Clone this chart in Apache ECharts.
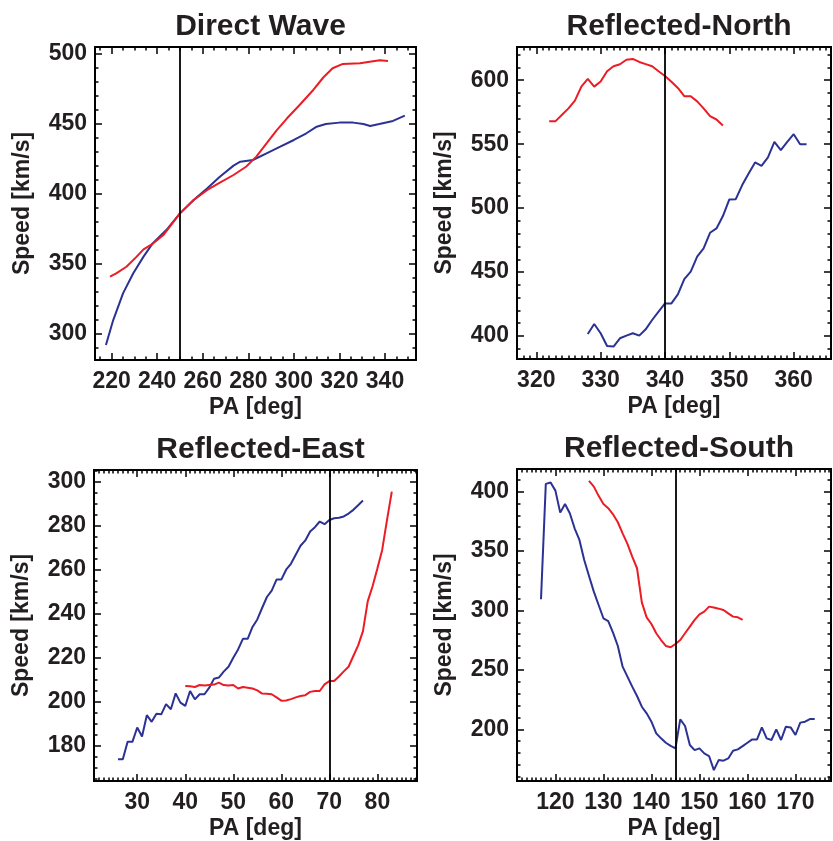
<!DOCTYPE html>
<html>
<head>
<meta charset="utf-8">
<script src="https://cdn.jsdelivr.net/npm/echarts@6/dist/echarts.min.js"></script>
<style>
  html, body { margin: 0; padding: 0; background: #fff; }
  #main { width: 833px; height: 841px; }
</style>
</head>
<body>
<div id="main"></div>
<script>
// Direct Wave
const directBlueX = [217.5, 220.7, 225, 229.5, 234, 238, 244, 250, 256, 262, 267.5, 273.5, 276.5, 282, 288, 294, 300, 305.5, 310, 314, 320, 326, 330.5, 333.5, 337.5, 343.5, 348.7];
const directBlueY = [291.7, 309.5, 328.6, 342.9, 354.8, 364.3, 373.8, 385.7, 395.2, 403.6, 411.9, 419.8, 422.6, 423.8, 428.6, 433.3, 438.1, 442.9, 447.6, 449.5, 450.5, 450.5, 449.5, 448.1, 449.5, 451.7, 455.5];
const directRedX = [219.3, 222, 226.5, 231, 234, 238.3, 242.7, 250, 256, 262, 267.5, 273.5, 279, 283.5, 288, 292.5, 297, 302.5, 308.5, 313, 317, 321.5, 329, 333.3, 337.7, 341.3];
const directRedY = [340.5, 342.9, 347.6, 354.8, 360, 364.3, 370.2, 385.7, 395.2, 402.4, 407.6, 413.1, 419, 426.2, 435.7, 445.2, 453.6, 463.1, 473.8, 482.9, 489.3, 492.4, 492.9, 494, 495, 494.5];

// Reflected-North
const northRedX = [322, 323, 324, 325, 326, 327, 328, 329, 330, 331, 332, 333, 334, 335, 336, 337, 338, 339, 340, 341, 342, 343, 344, 345, 346, 347, 348, 349];
const northRedY = [568, 568, 573, 578, 584, 595, 601, 595, 599, 607, 611, 612.5, 616, 616.7, 614.3, 612.6, 610.9, 607, 603.3, 598.8, 594, 587.5, 587.5, 583.5, 578, 572, 569.3, 564.6];
const northBlueX = [328, 329, 330, 331, 332, 333, 334, 335, 336, 337, 338, 339, 340, 341, 342, 343, 344, 345, 346, 347, 348, 349, 350, 351, 352, 353, 354, 355, 356, 357, 358, 359, 360, 361, 362];
const northBlueY = [401.6, 409.4, 402.1, 392.2, 391.7, 398.2, 400.3, 402.1, 400.3, 405.2, 412.5, 419, 425.5, 425.5, 432.6, 444.5, 450.3, 462, 468.5, 480.7, 484.1, 493.8, 506.8, 507, 518, 527.1, 535.7, 533.1, 539.6, 551.8, 545.3, 551.8, 557.8, 550, 550];

// Reflected-East
const eastBlueX = [26, 27, 28, 29, 30, 31, 32, 33, 34, 35, 36, 37, 38, 39, 40, 41, 42, 43, 44, 45, 46, 47, 48, 49, 50, 51, 52, 53, 54, 55, 56, 57, 58, 59, 60, 61, 62, 63, 64, 65, 66, 67, 68, 69, 70, 71, 72, 73, 74, 75, 76, 77];
const eastBlueY = [173.9, 173.9, 181.8, 181.8, 188.3, 184.2, 193.9, 190.9, 194.6, 194.3, 198.9, 196.6, 203.8, 199.6, 198.1, 204.9, 201.1, 203.4, 203.4, 206.4, 210.5, 211, 213.7, 215.9, 220, 223.8, 228.6, 228.6, 234, 237.4, 242.6, 247.6, 250.5, 255.5, 255.5, 260, 262.7, 266.8, 270.9, 273.3, 277.4, 279.3, 281.9, 280.7, 282.6, 283.4, 283.6, 284.2, 285.5, 287.2, 289.3, 291.4];
const eastRedX = [40, 41, 42, 43, 44, 45, 46, 47, 48, 49, 50, 51, 52, 53, 54, 55, 56, 57, 58, 59, 60, 61, 62, 63, 64, 65, 66, 67, 68, 69, 70, 71, 72, 73, 74, 75, 76, 77, 78, 79, 80, 81, 82, 83];
const eastRedY = [207.2, 207, 206.7, 207.6, 207.4, 207.6, 207.8, 208.7, 207.6, 207.4, 207.6, 206, 206.7, 206.4, 206, 205.2, 203.7, 203.6, 203.4, 202, 200.5, 200.6, 201.2, 202, 202.6, 203, 204.5, 204.9, 204.9, 207.9, 209.4, 209.4, 211.5, 213.8, 215.9, 220.8, 225.6, 232.1, 245.7, 252.5, 260.5, 269, 282.5, 295.5];

// Reflected-South
const southBlueX = [117, 118, 119, 120, 121, 122, 123, 124, 125, 126, 127, 128, 129, 130, 131, 132, 133, 134, 135, 136, 137, 138, 139, 140, 141, 142, 143, 144, 145, 146, 147, 148, 149, 150, 151, 152, 153, 154, 155, 156, 157, 158, 159, 160, 161, 162, 163, 164, 165, 166, 167, 168, 169, 170, 171, 172, 173, 174];
const southBlueY = [309.4, 406.5, 407.6, 400.8, 382.3, 389.6, 381.8, 369.1, 359.3, 342.5, 329, 315.8, 304.6, 293.4, 291.1, 281.3, 270.1, 252.7, 244.3, 235.9, 228, 219, 213.4, 206.4, 196.6, 192.4, 188.7, 186, 184, 208.4, 202.8, 186.8, 182.5, 184, 179.7, 177.5, 165.7, 174.1, 173.6, 175.5, 182, 183.1, 185.9, 188.7, 191.5, 191.5, 201.6, 192.4, 191, 200, 191, 202.2, 201.6, 195.2, 205.6, 206.4, 208.6, 208.6];
const southRedX = [127, 128, 129, 130, 131, 132, 133, 134, 135, 136, 137, 138, 139, 140, 141, 142, 143, 144, 145, 146, 147, 148, 149, 150, 151, 152, 153, 154, 155, 156, 157, 158, 159];
const southRedY = [409, 404.2, 396.4, 389.6, 386, 380.9, 374.2, 364.9, 356, 345.3, 335.5, 306.8, 294.2, 288.6, 280.8, 275.1, 270.1, 269, 271.8, 275.1, 280.8, 286.4, 292, 296.7, 299, 303.2, 302.5, 301.5, 300.4, 297.5, 294.8, 294.2, 292];

// tick labels
const directXTicks = [220, 240, 260, 280, 300, 320, 340];
const directYTicks = [300, 350, 400, 450, 500];
const northXTicks = [320, 330, 340, 350, 360];
const northYTicks = [400, 450, 500, 550, 600];
const eastXTicks = [30, 40, 50, 60, 70, 80];
const eastYTicks = [180, 200, 220, 240, 260, 280, 300];
const southXTicks = [120, 130, 140, 150, 160, 170];
const southYTicks = [200, 250, 300, 350, 400];

const titles = ['Direct Wave', 'Reflected-North', 'Reflected-East', 'Reflected-South'];
const markerPA = [250, 340, 70, 145];

const RED = '#ec1c24';
const BLUE = '#2b3294';
const FONT = 'Liberation Sans';
const TXT = '#231f20';

// layout of the four boxes
const panels = [
  { left: 95, top: 47, width: 321, height: 313, xMin: 212.7, xMax: 353.6, yMin: 281, yMax: 504.5,
    xTicks: directXTicks, yTicks: directYTicks, xMinor: 5, yMinor: 10,
    series: [[directBlueX, directBlueY, BLUE], [directRedX, directRedY, RED]] },
  { left: 517, top: 47, width: 314, height: 312, xMin: 317, xMax: 365.8, yMin: 382, yMax: 626,
    xTicks: northXTicks, yTicks: northYTicks, xMinor: 1, yMinor: 10,
    series: [[northBlueX, northBlueY, BLUE], [northRedX, northRedY, RED]] },
  { left: 94, top: 470, width: 323, height: 312, xMin: 21, xMax: 88.25, yMin: 164, yMax: 305.3,
    xTicks: eastXTicks, yTicks: eastYTicks, xMinor: 1, yMinor: 5,
    series: [[eastBlueX, eastBlueY, BLUE], [eastRedX, eastRedY, RED]] },
  { left: 517, top: 469, width: 314, height: 312, xMin: 112, xMax: 177.4, yMin: 156.5, yMax: 419,
    xTicks: southXTicks, yTicks: southYTicks, xMinor: 1, yMinor: 10,
    series: [[southBlueX, southBlueY, BLUE], [southRedX, southRedY, RED]] }
];

function minorTicks(min, max, step, majors) {
  const out = [];
  for (let v = Math.ceil(min / step) * step; v <= max; v += step) {
    const r = +v.toFixed(4);
    if (!majors.includes(r)) out.push(r);
  }
  return out;
}

function makeAxis(i, pos, min, max, ticks, len, withLabel, name, gap) {
  const vertical = pos === 'left' || pos === 'right';
  return {
    type: 'value', gridIndex: i, position: pos, min: min, max: max,
    axisLine: { show: false, onZero: false },
    splitLine: { show: false },
    axisTick: { show: true, inside: true, length: len, customValues: ticks,
      lineStyle: { color: '#000', width: 1.5 } },
    axisLabel: withLabel ? {
      show: true, customValues: ticks, fontSize: 23, fontWeight: 'bold', fontFamily: FONT,
      color: TXT, margin: vertical ? 8 : 10
    } : { show: false },
    name: withLabel ? name : '',
    nameLocation: 'middle', nameGap: gap, nameRotate: vertical ? 90 : 0,
    nameTextStyle: { fontSize: 23, fontWeight: 'bold', fontFamily: FONT, color: TXT }
  };
}

const grids = [], xAxes = [], yAxes = [], series = [], titleList = [];

panels.forEach((p, i) => {
  grids.push({ left: p.left, top: p.top, width: p.width, height: p.height,
    show: true, borderColor: '#000', borderWidth: 2, backgroundColor: 'transparent' });
  const xm = minorTicks(p.xMin, p.xMax, p.xMinor, p.xTicks);
  const ym = minorTicks(p.yMin, p.yMax, p.yMinor, p.yTicks);
  xAxes.push(makeAxis(i, 'bottom', p.xMin, p.xMax, p.xTicks, 7, true, 'PA [deg]', 36));
  xAxes.push(makeAxis(i, 'bottom', p.xMin, p.xMax, xm, 3.5, false));
  xAxes.push(makeAxis(i, 'top', p.xMin, p.xMax, p.xTicks, 7, false));
  xAxes.push(makeAxis(i, 'top', p.xMin, p.xMax, xm, 3.5, false));
  yAxes.push(makeAxis(i, 'left', p.yMin, p.yMax, p.yTicks, 7, true, 'Speed [km/s]', 61));
  yAxes.push(makeAxis(i, 'left', p.yMin, p.yMax, ym, 3.5, false));
  yAxes.push(makeAxis(i, 'right', p.yMin, p.yMax, p.yTicks, 7, false));
  yAxes.push(makeAxis(i, 'right', p.yMin, p.yMax, ym, 3.5, false));

  titleList.push({
    text: titles[i], left: p.left + p.width / 2, top: p.top - 40, textAlign: 'center',
    textStyle: { fontSize: 30, fontWeight: 'bold', fontFamily: FONT, color: TXT }
  });

  p.series.forEach((s, k) => {
    series.push({
      type: 'line', xAxisIndex: 4 * i, yAxisIndex: 4 * i,
      data: s[0].map((v, n) => [v, s[1][n]]),
      showSymbol: false, symbol: 'none', animation: false,
      lineStyle: { color: s[2], width: 2 },
      markLine: k === 0 ? {
        silent: true, symbol: 'none', animation: false,
        label: { show: false },
        lineStyle: { color: '#000', width: 1.8, type: 'solid' },
        data: [{ xAxis: markerPA[i] }]
      } : undefined
    });
  });
});

const myChart = echarts.init(document.querySelector('#main'));
myChart.setOption({
  animation: false,
  title: titleList,
  grid: grids,
  xAxis: xAxes,
  yAxis: yAxes,
  series: series
});
</script>
</body>
</html>
